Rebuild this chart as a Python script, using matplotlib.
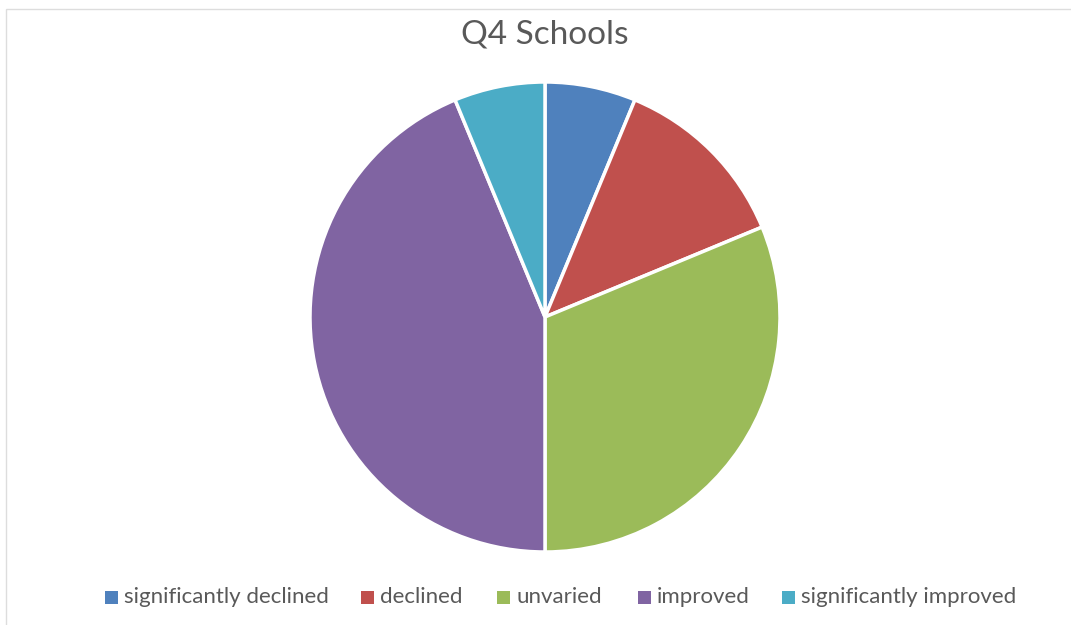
import matplotlib
matplotlib.use("Agg")
import matplotlib.pyplot as plt
from matplotlib.patches import Rectangle

categories = ["significantly declined", "declined", "unvaried", "improved", "significantly improved"]
counts = [1, 2, 5, 7, 1]
colors = ["#4F81BD", "#C0504D", "#9BBB59", "#8064A2", "#4BACC6"]
title = "Q4 Schools"

W, H = 1071, 625
fig = plt.figure(figsize=(W / 100, H / 100), dpi=100)
fig.patch.set_facecolor("white")

# thin frame around the chart area
fig.add_artist(Rectangle((6 / W, -0.1), 1.2, (H - 9) / H + 0.1, transform=fig.transFigure,
                         fill=False, edgecolor="#DDDDDD", linewidth=1))

cx, cy, r = 545, 317, 235
ax = fig.add_axes([(cx - r) / W, (H - cy - r) / H, 2 * r / W, 2 * r / H])
ax.pie(counts, colors=colors, startangle=90, counterclock=False, radius=1,
       wedgeprops=dict(edgecolor="white", linewidth=2.5))
ax.set_xlim(-1, 1)
ax.set_ylim(-1, 1)
ax.set_aspect("equal")
ax.axis("off")

fig.text(545 / W, 1 - 35 / H, title, ha="center", va="center",
         fontsize=24, color="#595959", family="Lato")

# legend row along the bottom
marker_x = [105, 361, 497, 638, 782]
ly = 597
for x0, c, label in zip(marker_x, colors, categories):
    fig.add_artist(Rectangle((x0 / W, (H - ly - 6.5) / H), 13 / W, 13 / H,
                             transform=fig.transFigure, facecolor=c, edgecolor="none"))
    fig.text((x0 + 19) / W, (H - ly) / H, label, ha="left", va="center",
             fontsize=16, color="#595959", family="Lato")

fig.savefig("out.png", dpi=100, facecolor="white")
